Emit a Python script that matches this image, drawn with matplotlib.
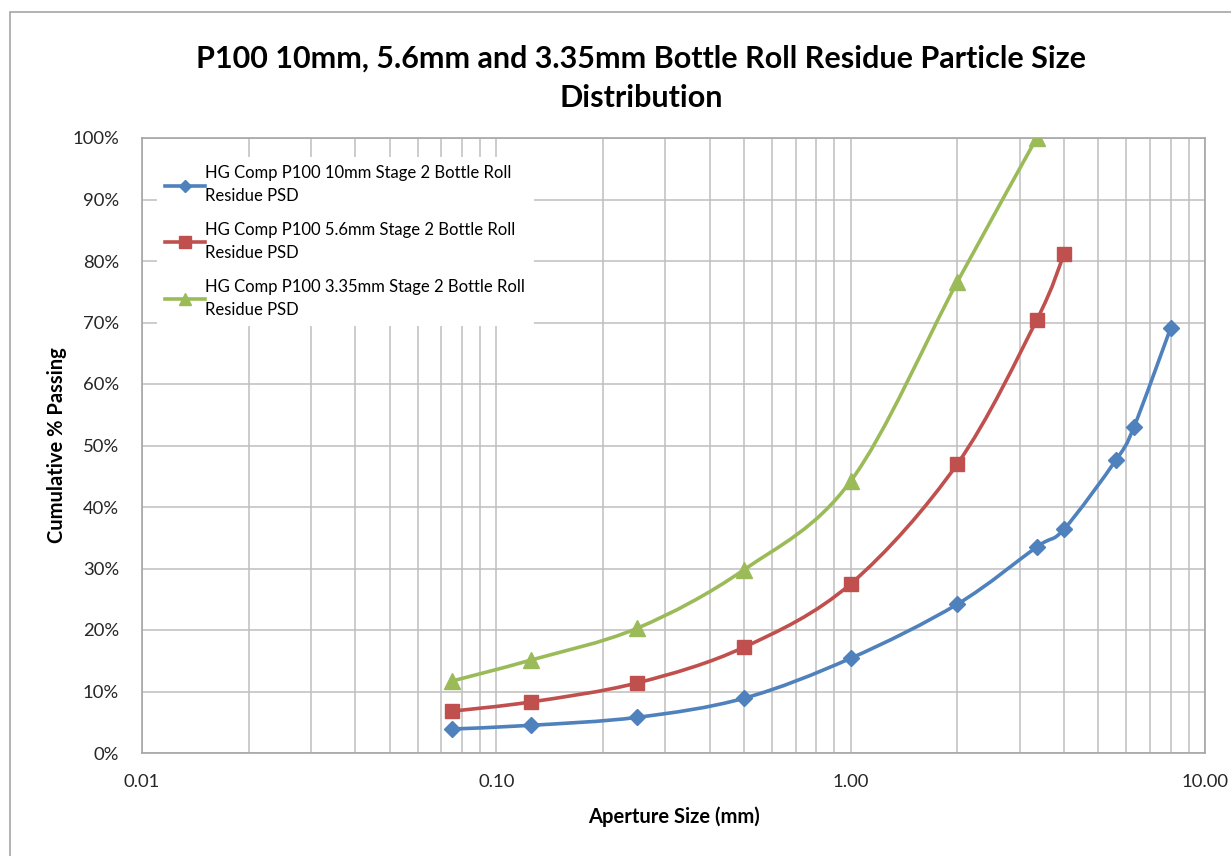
import numpy as np
import matplotlib.pyplot as plt
from matplotlib.path import Path
from matplotlib.patches import PathPatch, Rectangle
from matplotlib.lines import Line2D
from matplotlib.ticker import FixedLocator, FuncFormatter, NullFormatter

plt.rcParams['font.family'] = ['Lato', 'DejaVu Sans']

# Data (aperture in mm, cumulative % passing)
x_10mm = [0.075, 0.125, 0.25, 0.5, 1.0, 2.0, 3.35, 4.0, 5.6, 6.3, 8.0]
y_10mm = [3.9, 4.5, 5.8, 8.9, 15.4, 24.2, 33.5, 36.4, 47.6, 53.0, 69.1]

x_5_6mm = [0.075, 0.125, 0.25, 0.5, 1.0, 2.0, 3.35, 4.0]
y_5_6mm = [6.8, 8.3, 11.4, 17.2, 27.5, 47.0, 70.4, 81.1]

x_3_35mm = [0.075, 0.125, 0.25, 0.5, 1.0, 2.0, 3.35]
y_3_35mm = [11.7, 15.1, 20.3, 29.8, 44.2, 76.6, 100.0]

labels = ["HG Comp P100 10mm Stage 2 Bottle Roll\nResidue PSD",
          "HG Comp P100 5.6mm Stage 2 Bottle Roll\nResidue PSD",
          "HG Comp P100 3.35mm Stage 2 Bottle Roll\nResidue PSD"]
colors = ["#4F81BD", "#C0504D", "#9BBB59"]
markers = ["D", "s", "^"]
msizes = [8, 10, 11]


def smooth_path(x, y):
    # Excel-style smoothed line: bezier with control points from neighbours
    pts = np.column_stack([np.log10(x), np.asarray(y, float)])
    n = len(pts)
    verts = [pts[0]]
    codes = [Path.MOVETO]
    for i in range(n - 1):
        p0 = pts[max(i - 1, 0)]
        p1 = pts[i]
        p2 = pts[i + 1]
        p3 = pts[min(i + 2, n - 1)]
        verts += [p1 + (p2 - p0) / 6, p2 - (p3 - p1) / 6, p2]
        codes += [Path.CURVE4] * 3
    verts = np.array(verts)
    verts[:, 0] = 10 ** verts[:, 0]
    return Path(verts, codes)


W, H = 1231, 856
fig = plt.figure(figsize=(W / 100, H / 100), dpi=100)
ax = fig.add_axes([142 / W, 1 - 753 / H, (1205 - 142) / W, (753 - 138) / H])

ax.set_xscale('log')
ax.set_xlim(0.01, 10)
ax.set_ylim(0, 100)

series = [(x_10mm, y_10mm), (x_5_6mm, y_5_6mm), (x_3_35mm, y_3_35mm)]
handles = []
for (xs, ys), c, m, ms, lab in zip(series, colors, markers, msizes, labels):
    ax.add_patch(PathPatch(smooth_path(xs, ys), fill=False, edgecolor=c,
                           linewidth=2.6, zorder=3, capstyle='round'))
    ax.plot(xs, ys, linestyle='none', marker=m, markersize=ms, color=c,
            markeredgecolor=c, zorder=4)
    handles.append(Line2D([], [], color=c, linewidth=2.6, marker=m,
                          markersize=ms * 0.8, markeredgecolor=c, label=lab))

# grid and axes
grid_c = '#BFBFBF'
ax.xaxis.set_major_locator(FixedLocator([0.01, 0.1, 1, 10]))
ax.xaxis.set_major_formatter(FuncFormatter(lambda v, p: f"{v:.2f}"))
minor = [k * d for d in [0.01, 0.1, 1] for k in range(2, 10)]
ax.xaxis.set_minor_locator(FixedLocator(minor))
ax.xaxis.set_minor_formatter(NullFormatter())
ax.yaxis.set_major_locator(FixedLocator(np.arange(0, 101, 10)))
ax.yaxis.set_major_formatter(FuncFormatter(lambda v, p: f"{v:.0f}%"))
ax.grid(True, which='major', color=grid_c, linewidth=1.1)
ax.grid(True, which='minor', axis='x', color=grid_c, linewidth=1.1)
ax.set_axisbelow(True)
for s in ax.spines.values():
    s.set_color('#A6A6A6')
    s.set_linewidth(1.2)
ax.tick_params(which='both', length=0)
ax.tick_params(axis='x', pad=15, labelsize=13.3, labelcolor='#262626')
ax.tick_params(axis='y', pad=16.5, labelsize=13.3, labelcolor='#262626')

ax.set_xlabel("Aperture Size (mm)", fontsize=14.5, fontweight='bold', labelpad=12)
ax.set_ylabel("Cumulative % Passing", fontsize=14.5, fontweight='bold', labelpad=4)

fig.text(641 / W, 1 - 78 / H,
         "P100 10mm, 5.6mm and 3.35mm Bottle Roll Residue Particle Size\nDistribution",
         ha='center', va='center', fontsize=22, fontweight='bold', linespacing=1.5)

leg = ax.legend(handles=handles, loc='upper left',
                bbox_to_anchor=(157 / W, 1 - 157 / H), bbox_transform=fig.transFigure,
                frameon=True, fontsize=12, handlelength=2.4, handletextpad=0.0,
                labelspacing=1.05, borderpad=0.5, borderaxespad=0, fancybox=False)
for t in leg.get_texts():
    t.set_linespacing(1.55)
leg.get_frame().set_edgecolor('none')
leg.get_frame().set_facecolor('white')
leg.get_frame().set_alpha(1)

# outer chart border
fig.patches.append(Rectangle((10 / W, -0.05), 1.1, 1.05 - 12 / H,
                             transform=fig.transFigure, fill=False,
                             edgecolor='#A6A6A6', linewidth=1.2))

fig.savefig("out.png", dpi=100)
